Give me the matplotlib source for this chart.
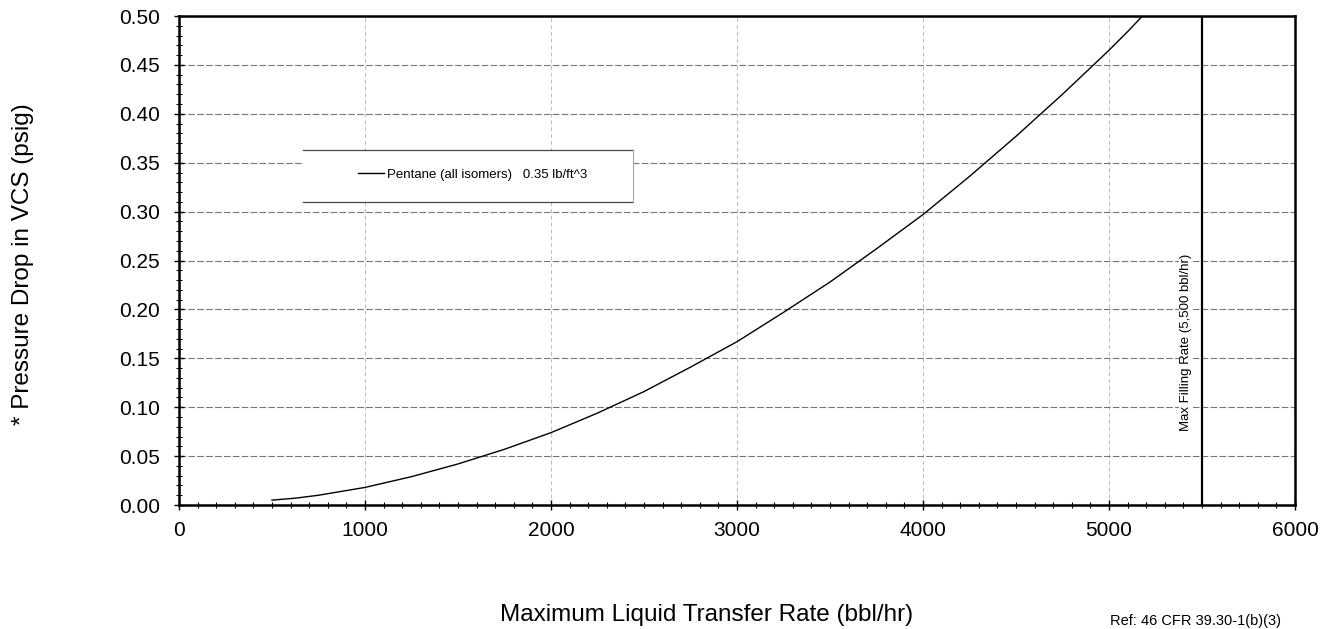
import matplotlib
matplotlib.use("Agg")
import matplotlib.pyplot as plt
from matplotlib.ticker import MultipleLocator, FormatStrFormatter
from matplotlib.patches import Rectangle

plt.rcParams['font.family'] = ['Liberation Sans', 'DejaVu Sans']

# curve
rate = [500, 625, 750, 875, 1000, 1250, 1500, 1750, 2000, 2250, 2500, 2750, 3000,
        3250, 3500, 3750, 4000, 4250, 4500, 4750, 5000, 5100, 5180]
dp = [0.005, 0.007, 0.010, 0.014, 0.018, 0.029, 0.042, 0.057, 0.074, 0.094, 0.116,
      0.141, 0.167, 0.197, 0.228, 0.262, 0.297, 0.336, 0.377, 0.420, 0.465, 0.484, 0.500]
series_label = "Pentane (all isomers)   0.35 lb/ft^3"
max_rate = 5500
max_label = "Max Filling Rate (5,500 bbl/hr)"

fig = plt.figure(figsize=(13.21, 6.29), dpi=100)
ax = fig.add_axes([0.1355, 0.1971, 0.8448, 0.7774])

ax.plot(rate, dp, color='black', lw=1.0, label=series_label, zorder=4)
ax.axvline(max_rate, color='black', lw=1.6, zorder=4)
ax.text(max_rate - 86, 0.166, max_label, rotation=90,
        ha='center', va='center', fontsize=9.5, zorder=3,
        bbox=dict(facecolor='white', edgecolor='none', pad=1))

ax.set_xlim(0, 6000)
ax.set_ylim(0, 0.5)
ax.xaxis.set_major_locator(MultipleLocator(1000))
ax.xaxis.set_minor_locator(MultipleLocator(100))
ax.yaxis.set_major_locator(MultipleLocator(0.05))
ax.yaxis.set_minor_locator(MultipleLocator(0.01))
ax.yaxis.set_major_formatter(FormatStrFormatter('%.2f'))
ax.tick_params(which='major', direction='inout', length=7, width=1, labelsize=15)
ax.tick_params(axis='x', which='major', pad=8)
ax.tick_params(axis='y', which='major', pad=10)
ax.tick_params(which='minor', direction='inout', length=4, width=0.8)

ax.grid(True, axis='y', color='#777777', lw=0.8, ls=(0, (6, 2)))
ax.grid(True, axis='x', color='#bbbbbb', lw=0.7, ls=(0, (4, 3)))
ax.set_axisbelow(True)
for s in ax.spines.values():
    s.set_linewidth(1.8)
    s.set_zorder(5)

# legend box: white fill, top / bottom / right edges only
x0, x1, y0, y1 = 0.111, 0.407, 0.620, 0.726
ax.add_patch(Rectangle((x0, y0), x1 - x0, y1 - y0, transform=ax.transAxes,
                       facecolor='white', edgecolor='none', zorder=2))
ax.plot([x0, x1], [y1, y1], transform=ax.transAxes, color='#444444', lw=0.9, zorder=2)
ax.plot([x0, x1], [y0, y0], transform=ax.transAxes, color='#444444', lw=0.9, zorder=2)
ax.plot([x1, x1], [y0, y1], transform=ax.transAxes, color='#aaaaaa', lw=0.8, zorder=2)
ax.legend(loc='center left', bbox_to_anchor=(0.160, 0.675), fontsize=9.5,
          frameon=False, handlelength=2.0, handletextpad=0.2,
          borderpad=0, borderaxespad=0)

fig.text(0.0174, 0.580, "* Pressure Drop in VCS (psig)", rotation=90,
         ha='center', va='center', fontsize=17.5)
fig.text(0.3785, 0.022, "Maximum Liquid Transfer Rate (bbl/hr)",
         ha='left', va='center', fontsize=17.5)
fig.text(0.840, 0.012, "Ref: 46 CFR 39.30-1(b)(3)", ha='left', va='center', fontsize=10.5)

fig.savefig("out.png", dpi=100)
